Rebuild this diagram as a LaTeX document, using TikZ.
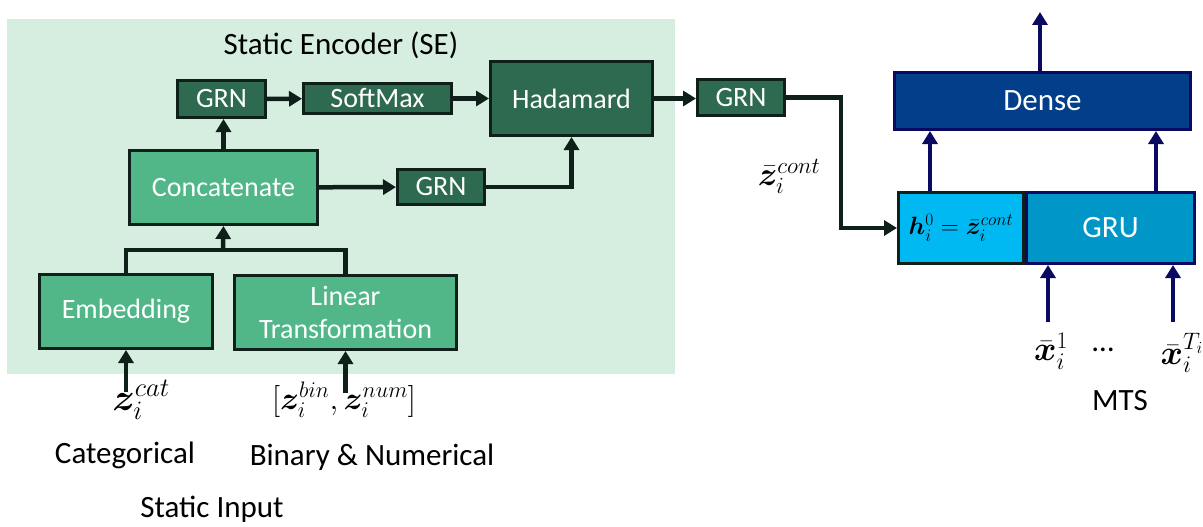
\RequirePackage{fix-cm}
\documentclass[tikz,border=0pt]{standalone}
\usepackage{amsmath}
\usepackage{bm}
\usepackage{fontspec}
\setmainfont{Carlito}
\usetikzlibrary{arrows.meta,positioning,calc}

\definecolor{sebg}{HTML}{D5EEDF}
\definecolor{darkg}{HTML}{2D6A4F}
\definecolor{midg}{HTML}{52B788}
\definecolor{lineg}{HTML}{0E2019}
\definecolor{navy}{HTML}{0A0A62}
\definecolor{densec}{HTML}{023E8A}
\definecolor{grucol}{HTML}{0096C7}
\definecolor{hcol}{HTML}{00B9F2}

\begin{document}
\begin{tikzpicture}[
    x=1pt, y=-1pt,
    dbox/.style={rectangle, draw=lineg, fill=darkg, line width=3pt, inner sep=0pt, text=white, font=\fontsize{28}{33}\selectfont},
    mbox/.style={rectangle, draw=lineg, fill=midg, line width=3pt, inner sep=0pt, text=white, align=center, font=\fontsize{28}{33}\selectfont},
    bbox/.style={rectangle, draw=navy, line width=3pt, inner sep=0pt, text=white, font=\fontsize{31}{36}\selectfont},
    arr/.style={-{Triangle[width=15pt,length=13pt]}, line width=4.5pt, draw=lineg},
    narr/.style={-{Triangle[width=15pt,length=13pt]}, line width=4.5pt, draw=navy},
    lbl/.style={font=\fontsize{31}{36}\selectfont},
    mlbl/.style={font=\fontsize{34}{40}\selectfont, inner sep=0pt}
]
\useasboundingbox (0,0) rectangle (1203,527);

% Static encoder background
\fill[sebg] (7,19) rectangle (675,374);
\node[lbl] (setitle) at (341,45) {Static Encoder (SE)};

% Encoder blocks
\node[dbox, minimum width=88, minimum height=37] (grn1) at (221.5,99) {GRN};
\node[dbox, minimum width=148, minimum height=30] (soft) at (377.5,98.5) {SoftMax};
\node[dbox, minimum width=162, minimum height=74] (had) at (571.5,98.5) {Hadamard};
\node[mbox, minimum width=188, minimum height=74] (concat) at (223.5,187.5) {Concatenate};
\node[dbox, minimum width=87, minimum height=35] (grn2) at (441,187) {GRN};
\node[mbox, minimum width=173, minimum height=74] (emb) at (126,311.5) {Embedding};
\node[mbox, minimum width=222, minimum height=74] (lin) at (345.5,312.5) {Linear\\Transformation};
\node[dbox, minimum width=87, minimum height=36] (grn3) at (741,97.5) {GRN};

% Decoder blocks
\node[bbox, fill=densec, minimum width=296, minimum height=57] (dense) at (1042.5,101) {Dense};
\node[rectangle, draw=lineg, fill=hcol, line width=3pt, inner sep=0pt, minimum width=125, minimum height=71, font=\fontsize{25}{30}\selectfont] (h) at (961,228) {$\bm{h}_i^0=\bar{\bm{z}}_i^{cont}$};
\node[bbox, fill=grucol, minimum width=168, minimum height=71] (gru) at (1110.5,228) {GRU};

% Inputs and labels
\node[mlbl, font=\fontsize{38}{44}\selectfont] (zcat) at (141,400) {$\bm{z}_i^{cat}$};
\node[mlbl, font=\fontsize{32}{38}\selectfont] (zbn) at (344,400) {$[\bm{z}_i^{bin},\bm{z}_i^{num}]$};
\node[lbl] (cat) at (125,455) {Categorical};
\node[lbl] (binnum) at (372,457) {Binary \& Numerical};
\node[lbl] (statin) at (212,509) {Static Input};
\node[mlbl, font=\fontsize{33}{38}\selectfont] (zcont) at (789,176) {$\bar{\bm{z}}_i^{cont}$};
\node[mlbl, anchor=north] (x1) at (1051,333) {$\bar{\bm{x}}_i^{1}$};
\node[lbl] (dots) at (1103,350) {\dots};
\node[mlbl, anchor=north] (xT) at (1182,333) {$\bar{\bm{x}}_i^{T_i}$};
\node[lbl] (mts) at (1120,401) {MTS};
\coordinate (merge) at (223,250);
\coordinate (out) at (1040,12);

% Arrows in the encoder
\draw[arr] ([yshift=-42pt]emb.south) -- (emb.south);
\draw[arr] ([yshift=-42pt]lin.south) -- (lin.south);
\draw[line width=4.5pt, draw=lineg] (emb.north) |- (merge) -| (lin.north);
\draw[arr] (merge) -- (concat.south);
\draw[arr] (concat.north) -- (concat.north |- grn1.south);
\draw[arr] (grn1) -- (soft);
\draw[arr] (soft) -- (had);
\draw[arr] (concat) -- (grn2);
\draw[arr] (grn2.east) -| (had.south);
\draw[arr] (had.east) -- (had.east -| grn3.west);
\draw[arr] (grn3.east) -- ++(55,0) |- (h.west);

% Arrows in the decoder
\draw[narr] ([xshift=33pt]h.north west) -- ([xshift=33pt]h.north west |- dense.south);
\draw[narr] ([xshift=-40pt]gru.north east) -- ([xshift=-40pt]gru.north east |- dense.south);
\draw[narr] (dense.north -| out) -- (out);
\draw[narr] ([xshift=-3pt,yshift=11pt]x1.north) -- ([xshift=-3pt]x1.north |- gru.south);
\draw[narr] ([xshift=-9pt,yshift=11pt]xT.north) -- ([xshift=-9pt]xT.north |- gru.south);

\end{tikzpicture}
\end{document}
